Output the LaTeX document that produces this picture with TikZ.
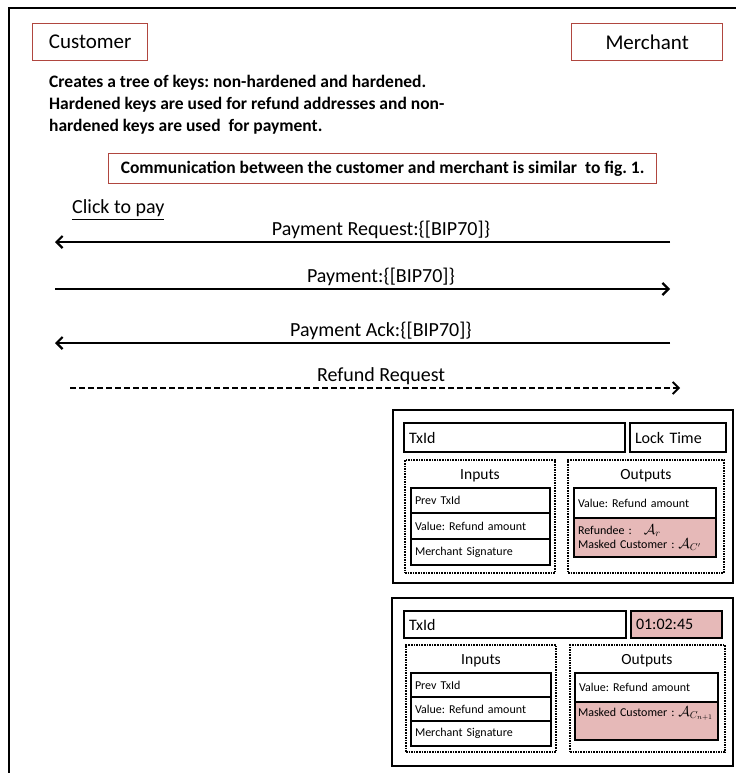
\documentclass[tikz,border=0pt]{standalone}
\usepackage{fontspec}
\setmainfont{Carlito}
\usepackage{amsmath}
\usepackage{amssymb}
\usetikzlibrary{arrows.meta}
\frenchspacing
\definecolor{accentred}{HTML}{B0463F}
\definecolor{refundpink}{HTML}{E6B9B8}
\tikzstyle{partybox} = [
    draw=accentred,
    line width=1.3pt,
    rectangle,
    anchor=north west,
    inner sep=0pt,
    font=\fontsize{21}{25}\selectfont
    ]
\tikzstyle{msg} = [
    line width=2.2pt,
    -{Straight Barb[length=6pt,width=12pt]}
    ]
\tikzstyle{msglabel} = [
    font=\fontsize{20}{22}\selectfont,
    inner sep=0.5pt,
    above=1.5pt
    ]
\tikzstyle{txbox} = [
    draw,
    line width=2pt,
    rectangle,
    anchor=north west,
    inner sep=0pt,
    outer sep=0pt
    ]
\tikzstyle{fieldbox} = [
    draw,
    line width=1.6pt,
    rectangle,
    anchor=north west,
    inner xsep=5pt,
    outer sep=0pt,
    align=left,
    font=\fontsize{16}{18}\selectfont
    ]
\tikzstyle{groupbox} = [
    draw,
    line width=1.6pt,
    densely dotted,
    rectangle,
    anchor=north west,
    inner sep=0pt,
    outer sep=0pt
    ]
\tikzstyle{rowbox} = [
    draw,
    line width=1.1pt,
    rectangle,
    anchor=north west,
    inner xsep=4pt,
    outer sep=0pt,
    align=left,
    font=\fontsize{12}{15}\selectfont
    ]
\tikzstyle{grouptitle} = [font=\fontsize{15.5}{18}\selectfont]
\newcommand{\addr}[1]{{\fontsize{14}{14}\selectfont$\mathcal{A}_{#1}$}}

\begin{document}
\begin{tikzpicture}[x=1pt, y=-1pt]
\useasboundingbox (0,0) rectangle (736,773);
\draw[line width=2.5pt] (9,773) -- (9,8) -- (736,8);

\node[partybox, minimum width=115pt, minimum height=37pt] (customer) at (32,23) {Customer};
\node[partybox, minimum width=151pt, minimum height=37pt] (merchant) at (571,23) {Merchant};

\node[anchor=north west, align=left, inner sep=0pt,
      font=\fontsize{17.5}{22}\selectfont\bfseries] (keystext) at (49,75)
    {Creates a tree of keys: non-hardened and hardened.\\
     Hardened keys are used for refund addresses and non-\\
     hardened keys are used\ \ for payment.};

\node[partybox, minimum width=548pt, minimum height=30pt,
      font=\fontsize{17.5}{20}\selectfont\bfseries] (commbox) at (108,153)
    {Communication between the customer and merchant is similar\ \ to fig. 1.};

\node[anchor=west, inner sep=0pt, font=\fontsize{20}{22}\selectfont] (clicktopay) at (72,210)
    {\underline{Click to pay}};

% message arrows
\coordinate (reqm) at (670,242);
\coordinate (reqc) at (55,242);
\coordinate (payc) at (55,289);
\coordinate (paym) at (670,289);
\coordinate (ackm) at (670,343);
\coordinate (ackc) at (55,343);
\coordinate (refc) at (70,388);
\coordinate (refm) at (680,388);
\draw[msg] (reqm) -- node[msglabel, pos=0.47] (reqlabel) {Payment Request:\{[BIP70]\}} (reqc);
\draw[msg] (payc) -- node[msglabel, pos=0.53] (paylabel) {Payment:\{[BIP70]\}} (paym);
\draw[msg] (ackm) -- node[msglabel, pos=0.47] (acklabel) {Payment Ack:\{[BIP70]\}} (ackc);
\draw[msg, line width=1.8pt, dash pattern=on 6pt off 3pt] (refc) -- node[msglabel, pos=0.51] (reflabel) {Refund Request} (refm);

% refund transaction
\node[txbox, minimum width=340pt, minimum height=173pt] (tx1) at (393,410) {};
\node[fieldbox, text width=211pt, minimum height=29pt] (tx1id) at (404,423) {TxId};
\node[fieldbox, text width=86pt, minimum height=29pt] (tx1lock) at (630,423) {Lock Time};
\node[groupbox, minimum width=150pt, minimum height=113pt] (tx1in) at (405,460) {};
\node[grouptitle] (tx1intitle) at (480,476) {Inputs};
\node[rowbox, text width=131pt, minimum height=25pt] (tx1prev) at (411,488) {Prev TxId};
\node[rowbox, text width=131pt, minimum height=26pt] (tx1value) at (tx1prev.south west) {Value: Refund amount};
\node[rowbox, text width=131pt, minimum height=26pt] (tx1sig) at (tx1value.south west) {Merchant Signature};
\node[groupbox, minimum width=156pt, minimum height=113pt] (tx1out) at (568,460) {};
\node[grouptitle] (tx1outtitle) at (646,476) {Outputs};
\node[rowbox, text width=134pt, minimum height=30pt] (tx1outvalue) at (574,488) {Value: Refund amount};
\node[rowbox, fill=refundpink, text width=134pt, minimum height=39pt, font=\fontsize{12}{14}\selectfont] (tx1outaddr) at (tx1outvalue.south west)
    {Refundee :\quad\addr{r}\\ Masked Customer : \addr{C'}};

% time locked transaction
\node[txbox, minimum width=341pt, minimum height=168pt] (tx2) at (392,598) {};
\node[fieldbox, text width=212pt, minimum height=27pt] (tx2id) at (404,611) {TxId};
\node[fieldbox, fill=refundpink, text width=81pt, minimum height=27pt] (tx2time) at (631,611) {01:02:45};
\node[groupbox, minimum width=150pt, minimum height=107pt] (tx2in) at (406,645) {};
\node[grouptitle] (tx2intitle) at (481,661) {Inputs};
\node[rowbox, text width=132pt, minimum height=24pt] (tx2prev) at (411,673) {Prev TxId};
\node[rowbox, text width=132pt, minimum height=24pt] (tx2value) at (tx2prev.south west) {Value: Refund amount};
\node[rowbox, text width=132pt, minimum height=25pt] (tx2sig) at (tx2value.south west) {Merchant Signature};
\node[groupbox, minimum width=155pt, minimum height=107pt] (tx2out) at (570,645) {};
\node[grouptitle] (tx2outtitle) at (647,661) {Outputs};
\node[rowbox, text width=135pt, minimum height=29pt] (tx2outvalue) at (575,673) {Value: Refund amount};
\node[rowbox, fill=refundpink, text width=137pt, inner xsep=3pt, text height=11pt, text depth=21pt, inner ysep=3pt] (tx2outaddr) at (tx2outvalue.south west)
    {\mbox{Masked Customer : \addr{C_{n+1}}}};
\end{tikzpicture}
\end{document}
